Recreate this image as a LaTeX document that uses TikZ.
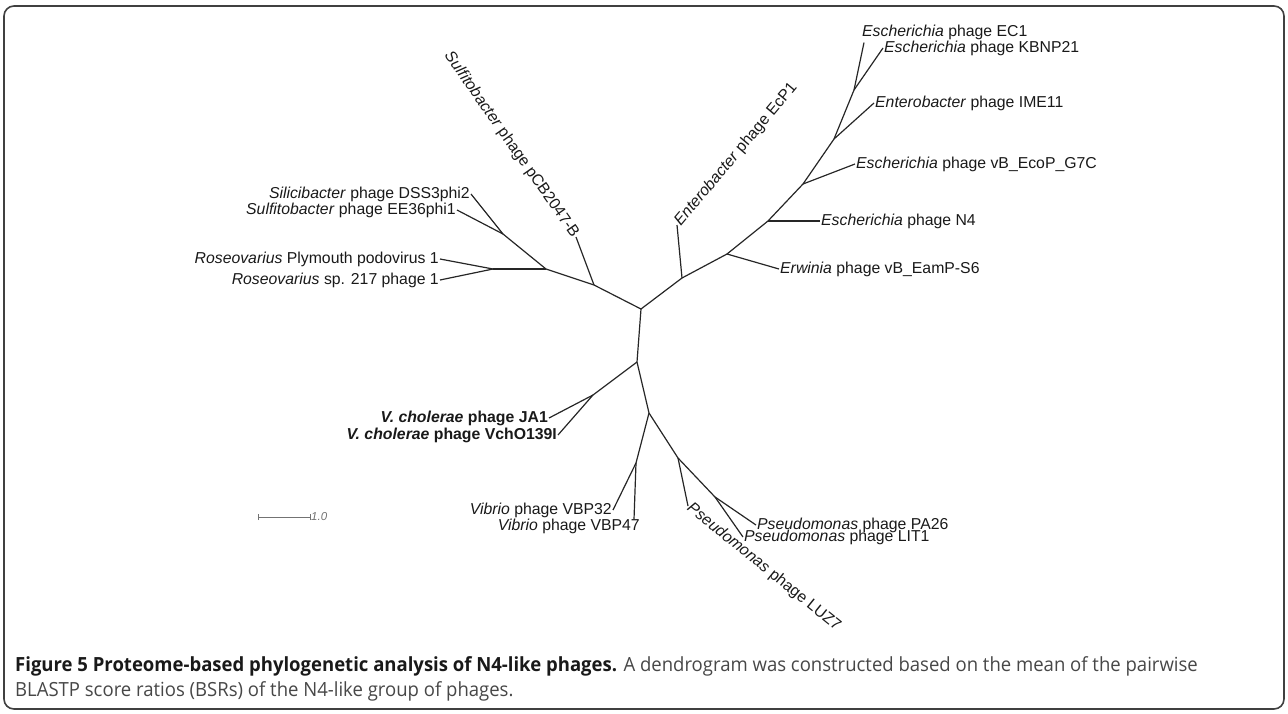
\documentclass[tikz,border=0pt]{standalone}
\usepackage{fontspec}
\setmainfont{Liberation Sans}
\newfontfamily\capfont[FakeStretch=0.95]{Open Sans}
\usetikzlibrary{positioning}

\begin{document}
\begin{tikzpicture}[x=1pt,y=-1pt,
  branch/.style={line width=1.2pt,black!85},
  taxon/.style={font=\fontsize{15.8}{18}\selectfont,inner sep=1pt,text=black!90},
  capline/.style={font=\capfont\fontsize{19.5}{22}\selectfont,anchor=west,inner sep=0pt,text=black!72}]
\useasboundingbox (0,0) rectangle (1288,713);
\draw[rounded corners=10pt,line width=1.6pt,black!75] (4,6) rectangle (1284,709);

% inner nodes
\coordinate (root) at (641,309);
\coordinate (nPCB) at (594,285);
\coordinate (nMain) at (546,269);
\coordinate (nRos) at (493,269);
\coordinate (nSil) at (503,234);
\coordinate (nEcP1) at (682,278);
\coordinate (nErw) at (727,254);
\coordinate (nN4) at (768,221);
\coordinate (nG7C) at (803,184);
\coordinate (nIME) at (834,139);
\coordinate (nEC) at (854,90);
\coordinate (nBot) at (637,362);
\coordinate (nVch) at (593,395);
\coordinate (nB2) at (649,413);
\coordinate (nVib) at (636,463);
\coordinate (nPse) at (678,458);
\coordinate (nPA) at (715,497);

% taxa, left
\node[taxon,anchor=east] (tDSS) at (471,194) {\textit{Silicibacter} phage DSS3phi2};
\node[taxon,anchor=east] (tEE36) at (457,210) {\textit{Sulfitobacter} phage EE36phi1};
\node[taxon,anchor=east] (tRosP) at (440,259) {\textit{Roseovarius} Plymouth podovirus 1};
\node[taxon,anchor=east] (tRos217) at (440,280) {\textit{Roseovarius} sp. 217 phage 1};
\node[taxon,anchor=east,font=\bfseries\fontsize{15.8}{18}\selectfont] (tJA1) at (549,418) {\textit{V. cholerae} phage JA1};
\node[taxon,anchor=east,font=\bfseries\fontsize{15.8}{18}\selectfont] (tVch) at (558,435) {\textit{V. cholerae} phage VchO139I};
\node[taxon,anchor=east] (tVBP32) at (613,510) {\textit{Vibrio} phage VBP32};
\node[taxon,anchor=east] (tVBP47) at (641,526) {\textit{Vibrio} phage VBP47};
% taxa, right
\node[taxon,anchor=west] (tEC1) at (861,32) {\textit{Escherichia} phage EC1};
\node[taxon,anchor=west] (tKB) at (883,48) {\textit{Escherichia} phage KBNP21};
\node[taxon,anchor=west] (tIME) at (874,103) {\textit{Enterobacter} phage IME11};
\node[taxon,anchor=west] (tG7C) at (855,164) {\textit{Escherichia} phage vB\_EcoP\_G7C};
\node[taxon,anchor=west] (tN4) at (820,221) {\textit{Escherichia} phage N4};
\node[taxon,anchor=west] (tErw) at (779,269) {\textit{Erwinia} phage vB\_EamP-S6};
\node[taxon,anchor=west] (tPA26) at (756,525) {\textit{Pseudomonas} phage PA26};
\node[taxon,anchor=west] (tLIT1) at (743,537) {\textit{Pseudomonas} phage LIT1};
% taxa, turned
\node[taxon,anchor=east,rotate=-55] (tPCB) at (576,237) {\textit{Sulfitobacter} phage pCB2047-B};
\node[taxon,anchor=west,rotate=50] (tEcP1) at (677,225) {\textit{Enterobacter} phage EcP1};
\node[taxon,anchor=west,rotate=-39] (tLUZ7) at (688,506) {\textit{Pseudomonas} phage LUZ7};

% branches
\draw[branch] (root) -- (nPCB) -- (nMain) -- (nSil);
\draw[branch] (nMain) -- (nRos);
\draw[branch] (nPCB) -- (tPCB.east);
\draw[branch] (nSil) -- (tDSS.east);
\draw[branch] (nSil) -- (tEE36.east);
\draw[branch] (nRos) -- (tRosP.east);
\draw[branch] (nRos) -- (tRos217.east);

\draw[branch] (root) -- (nEcP1) -- (nErw) -- (nN4) -- (nG7C) -- (nIME) -- (nEC);
\draw[branch] (nEcP1) -- (tEcP1.west);
\draw[branch] (nErw) -- (tErw.west);
\draw[branch] (nN4) -- (tN4.west);
\draw[branch] (nG7C) -- (tG7C.west);
\draw[branch] (nIME) -- (tIME.west);
\draw[branch] (nEC) -- ([xshift=3pt,yshift=-2pt]tEC1.south west);
\draw[branch] (nEC) -- (tKB.west);

\draw[branch] (root) -- (nBot) -- (nB2) -- (nPse) -- (nPA);
\draw[branch] (nBot) -- (nVch);
\draw[branch] (nVch) -- (tJA1.east);
\draw[branch] (nVch) -- (tVch.east);
\draw[branch] (nB2) -- (nVib);
\draw[branch] (nVib) -- (tVBP32.east);
\draw[branch] (nVib) -- ([xshift=-7pt,yshift=-2pt]tVBP47.north east);
\draw[branch] (nPse) -- (tLUZ7.west);
\draw[branch] (nPA) -- (tPA26.west);
\draw[branch] (nPA) -- (tLIT1.west);

% scale bar
\coordinate (sbA) at (258,517);
\node[font=\itshape\fontsize{11.5}{13}\selectfont,text=black!55,anchor=west,inner sep=1pt] (sbl) at (310,517) {1.0};
\draw[black!55,line width=0.8pt] (sbA) -- (sbl.west);
\draw[black!55,line width=0.8pt] ([yshift=-3pt]sbA) -- ([yshift=3pt]sbA);
\draw[black!55,line width=0.8pt] ([yshift=-3pt]sbl.west) -- ([yshift=3pt]sbl.west);

% caption
\node[capline] (cap1) at (15,666) {\textbf{\color{black!90}Figure 5 Proteome-based phylogenetic analysis of N4-like phages.} A dendrogram was constructed based on the mean of the pairwise};
\node[capline,below=5pt of cap1.south west,anchor=north west] (cap2) {BLASTP score ratios (BSRs) of the N4-like group of phages.};
\end{tikzpicture}
\end{document}
